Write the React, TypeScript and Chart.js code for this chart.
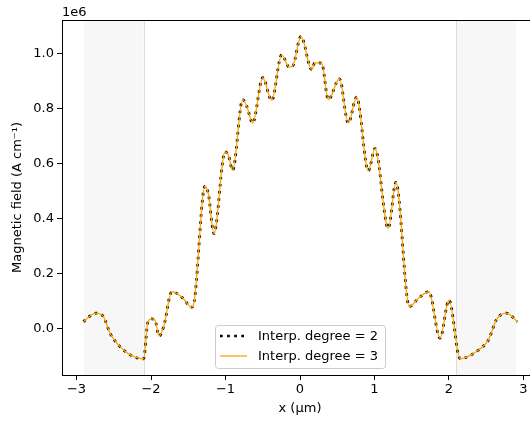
import React, { useEffect, useRef } from "react";
import { Chart, registerables } from "chart.js";

Chart.register(...registerables);

// Positions along the sample (µm)
const xPositions = [
  -2.91, -2.74, -2.64, -2.55, -2.42, -2.3, -2.17, -2.1, -2.04, -1.99, -1.95, -1.89, -1.83,
  -1.72, -1.57, -1.46, -1.43, -1.275, -1.23, -1.155, -1.007, -0.962, -0.904, -0.77, -0.715,
  -0.635, -0.5, -0.38, -0.246, -0.144, -0.098, 0.013, 0.157, 0.2, 0.29, 0.38, 0.53, 0.648,
  0.76, 0.917, 1.007, 1.185, 1.288, 1.467, 1.59, 1.73, 1.88, 2.0, 2.15, 2.24, 2.4, 2.53,
  2.64, 2.77, 2.92,
];

// Magnetic field (A cm^-1), interpolation degree 2
const fieldDegree2 = [
  25000, 56000, 44000, -17000, -65000, -92000, -108000, -110000, 25000, 35000, 32000, -27000, 7000,
  134000, 110000, 78000, 86000, 518000, 490000, 345000, 643000, 631000, 576000, 833000, 809000,
  748000, 913000, 830000, 996000, 951000, 955000, 1063000, 942000, 967000, 966000, 833000, 909000, 748000,
  842000, 574000, 655000, 365000, 532000, 80000, 110000, 134000, -35000, 104000, -110000, -104000, -77000, -41000,
  34000, 56000, 25000,
];

// Magnetic field (A cm^-1), interpolation degree 3
const fieldDegree3 = [
  25000, 56000, 44000, -17000, -65000, -92000, -108000, -110000, 25000, 35000, 32000, -27000, 7000,
  134000, 110000, 78000, 86000, 518000, 490000, 345000, 643000, 631000, 576000, 833000, 809000,
  748000, 913000, 830000, 996000, 951000, 955000, 1063000, 942000, 967000, 966000, 833000, 909000, 748000,
  842000, 574000, 655000, 365000, 532000, 80000, 110000, 134000, -35000, 104000, -110000, -104000, -77000, -41000,
  34000, 56000, 25000,
];

const seriesLabels = ["Interp. degree = 2", "Interp. degree = 3"];
const xTickValues = [-3, -2, -1, 0, 1, 2, 3];
const yTickValues = [0, 200000, 400000, 600000, 800000, 1000000];
const shadedRanges: [number, number][] = [
  [-2.9, -2.1],
  [2.1, 2.9],
];
const xLimits = [-3.195, 3.195];
const yLimits = [-169000, 1122700];

const FONT = "DejaVu Sans";

const fmtMinus = (v: number) => (v < 0 ? "\u2212" + Math.abs(v) : String(v));

const decorPlugin = {
  id: "decor",
  beforeDatasetsDraw(chart: any) {
    const { ctx, chartArea, scales } = chart;
    const xs = scales.x;
    ctx.save();
    for (const [a, b] of shadedRanges) {
      const p1 = xs.getPixelForValue(a);
      const p2 = xs.getPixelForValue(b);
      ctx.fillStyle = "#f7f7f7";
      ctx.fillRect(p1, chartArea.top, p2 - p1, chartArea.bottom - chartArea.top);
    }
    ctx.strokeStyle = "#dddddd";
    ctx.lineWidth = 1;
    for (const v of [shadedRanges[0][1], shadedRanges[1][0]]) {
      const p = Math.round(xs.getPixelForValue(v)) + 0.5;
      ctx.beginPath();
      ctx.moveTo(p, chartArea.top);
      ctx.lineTo(p, chartArea.bottom);
      ctx.stroke();
    }
    ctx.restore();
  },
  afterDraw(chart: any) {
    const { ctx, chartArea } = chart;
    ctx.save();
    // top spine
    ctx.strokeStyle = "#000";
    ctx.lineWidth = 1;
    ctx.beginPath();
    ctx.moveTo(chartArea.left, Math.round(chartArea.top) + 0.5);
    ctx.lineTo(chartArea.right, Math.round(chartArea.top) + 0.5);
    ctx.stroke();

    // offset label
    ctx.fillStyle = "#000";
    ctx.font = `13px "${FONT}"`;
    ctx.textAlign = "left";
    ctx.textBaseline = "alphabetic";
    ctx.fillText("1e6", chartArea.left, chartArea.top - 4);

    // legend
    const bx = 215.5, by = 325.5, bw = 170, bh = 43, r = 3;
    ctx.beginPath();
    ctx.moveTo(bx + r, by);
    ctx.lineTo(bx + bw - r, by);
    ctx.arcTo(bx + bw, by, bx + bw, by + r, r);
    ctx.lineTo(bx + bw, by + bh - r);
    ctx.arcTo(bx + bw, by + bh, bx + bw - r, by + bh, r);
    ctx.lineTo(bx + r, by + bh);
    ctx.arcTo(bx, by + bh, bx, by + bh - r, r);
    ctx.lineTo(bx, by + r);
    ctx.arcTo(bx, by, bx + r, by, r);
    ctx.closePath();
    ctx.fillStyle = "rgba(255,255,255,0.8)";
    ctx.fill();
    ctx.strokeStyle = "#cccccc";
    ctx.stroke();

    const rows = [336, 356];
    chart.data.datasets.forEach((ds: any, i: number) => {
      const y = rows[i];
      ctx.save();
      ctx.strokeStyle = ds.borderColor;
      ctx.lineWidth = ds.borderWidth;
      ctx.lineCap = "butt";
      ctx.setLineDash(ds.borderDash || []);
      ctx.beginPath();
      ctx.moveTo(220, y);
      ctx.lineTo(247, y);
      ctx.stroke();
      ctx.restore();
      ctx.fillStyle = "#000";
      ctx.textBaseline = "middle";
      ctx.fillText(ds.label, 258, y + 1);
    });
    ctx.restore();
  },
};

export default function App() {
  const canvasRef = useRef<HTMLCanvasElement | null>(null);

  useEffect(() => {
    const canvas = canvasRef.current;
    if (!canvas) return;
    const chart = new Chart(canvas, {
      type: "line",
      data: {
        datasets: [
          {
            label: seriesLabels[0],
            data: xPositions.map((x, i) => ({ x, y: fieldDegree2[i] })),
            borderColor: "#000000",
            borderWidth: 2.7,
            borderDash: [2.7, 4.4],
            borderCapStyle: "butt",
            pointRadius: 0,
            cubicInterpolationMode: "monotone",
            fill: false,
            order: 1,
          },
          {
            label: seriesLabels[1],
            data: xPositions.map((x, i) => ({ x, y: fieldDegree3[i] })),
            borderColor: "#FFA500",
            borderWidth: 1.3,
            pointRadius: 0,
            cubicInterpolationMode: "monotone",
            fill: false,
            order: 0,
          },
        ],
      },
      options: {
        animation: false,
        responsive: false,
        maintainAspectRatio: false,
        layout: { padding: { top: 20, right: 7, bottom: 0, left: 0 } },
        plugins: {
          legend: { display: false },
          tooltip: { enabled: false },
        },
        scales: {
          x: {
            type: "linear",
            min: xLimits[0],
            max: xLimits[1],
            afterBuildTicks: (scale: any) => {
              scale.ticks = xTickValues.map((v) => ({ value: v }));
            },
            afterFit: (scale: any) => {
              scale.height = 46;
            },
            ticks: {
              color: "#000",
              font: { family: FONT, size: 13 },
              padding: 2,
              maxRotation: 0,
              autoSkip: false,
              callback: (v: any) => fmtMinus(Number(v)),
            },
            grid: {
              drawOnChartArea: false,
              drawTicks: true,
              tickLength: 5,
              color: "#000",
            },
            border: { display: true, color: "#000", width: 1 },
            title: {
              display: true,
              text: "x (\u03bcm)",
              color: "#000",
              font: { family: FONT, size: 13 },
              padding: { top: 0, bottom: 5 },
            },
          },
          y: {
            type: "linear",
            min: yLimits[0],
            max: yLimits[1],
            afterBuildTicks: (scale: any) => {
              scale.ticks = yTickValues.map((v) => ({ value: v }));
            },
            afterFit: (scale: any) => {
              scale.width = 62;
            },
            ticks: {
              color: "#000",
              font: { family: FONT, size: 13 },
              padding: 3,
              autoSkip: false,
              callback: (v: any) => (Number(v) / 1e6).toFixed(1),
            },
            grid: {
              drawOnChartArea: false,
              drawTicks: true,
              tickLength: 5,
              color: "#000",
            },
            border: { display: true, color: "#000", width: 1 },
            title: {
              display: true,
              text: "Magnetic field (A cm\u207b\u00b9)",
              color: "#000",
              font: { family: FONT, size: 13 },
              padding: { top: 10, bottom: 0 },
            },
          },
        },
      },
      plugins: [decorPlugin],
    } as any);
    return () => chart.destroy();
  }, []);

  return (
    <div
      style={{
        position: "fixed",
        left: 0,
        top: 0,
        width: 530,
        height: 421,
        overflow: "hidden",
        background: "#fff",
      }}
    >
      <canvas
        ref={canvasRef}
        width={545}
        height={421}
        style={{ width: 545, height: 421, display: "block" }}
      />
    </div>
  );
}
